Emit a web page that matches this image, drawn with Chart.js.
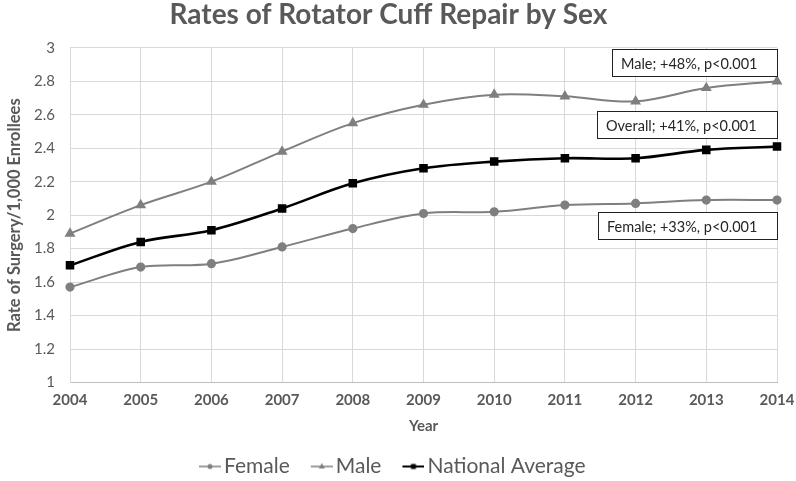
<!DOCTYPE html>
<html>
<head>
<meta charset="utf-8">
<script src="https://cdn.jsdelivr.net/npm/chart.js@4.4.0/dist/chart.umd.min.js"></script>
<style>
  body { margin: 0; background: #fff; }
  canvas { display: block; }
</style>
</head>
<body>
<canvas id="rcChart" width="796" height="481"></canvas>
<script>
//data
var years = ["2004", "2005", "2006", "2007", "2008", "2009", "2010", "2011", "2012", "2013", "2014"];
var female = [1.57, 1.69, 1.71, 1.81, 1.92, 2.01, 2.02, 2.06, 2.07, 2.09, 2.09];
var male = [1.89, 2.06, 2.20, 2.38, 2.55, 2.66, 2.72, 2.71, 2.68, 2.76, 2.80];
var national = [1.70, 1.84, 1.91, 2.04, 2.19, 2.28, 2.32, 2.34, 2.34, 2.39, 2.41];
var yTicks = [1, 1.2, 1.4, 1.6, 1.8, 2, 2.2, 2.4, 2.6, 2.8, 3];

//text boxes on the right, anchored at the last year
var noteTexts = ["Male; +48%, p<0.001", "Overall; +41%, p<0.001", "Female; +33%, p<0.001"];
var noteLevels = [2.912, 2.539, 1.938];

var FONT = "Lato, 'Open Sans', sans-serif";
var GRAY = "#7f7f7f";
var TEXT = "#595959";

//legend symbol: a short line with a marker, drawn on the right part of a
//wider transparent canvas so the gaps around it look like the original
function legendIcon(color, style, lw) {
    var c = document.createElement("canvas");
    c.width = 37; c.height = 10;
    var g = c.getContext("2d");
    g.strokeStyle = color;
    g.fillStyle = color;
    g.lineWidth = lw;
    g.beginPath();
    g.moveTo(15, 5); g.lineTo(37, 5);
    g.stroke();
    g.beginPath();
    if (style === "circle") {
        g.arc(26, 5, 2.5, 0, Math.PI * 2);
    } else if (style === "triangle") {
        g.moveTo(26, 1.5); g.lineTo(29, 7); g.lineTo(23, 7); g.closePath();
    } else {
        g.rect(23.5, 2.5, 5, 5);
    }
    g.fill();
    return c;
}

var notesPlugin = {
    id: "notes",
    afterDatasetsDraw: function (chart) {
        var ctx = chart.ctx;
        var xs = chart.scales.x, ys = chart.scales.y;
        var right = Math.round(xs.getPixelForValue(years.length - 1));
        ctx.save();
        ctx.font = "14.5px " + FONT;
        ctx.textBaseline = "middle";
        noteTexts.forEach(function (t, i) {
            var w = Math.round(ctx.measureText(t).width + 29);
            var h = 27;
            var cy = Math.round(ys.getPixelForValue(noteLevels[i]));
            var x0 = right - w;
            var y0 = cy - Math.round(h / 2);
            ctx.fillStyle = "#fff";
            ctx.fillRect(x0, y0, w, h);
            ctx.strokeStyle = "#222";
            ctx.lineWidth = 1;
            ctx.strokeRect(x0 + 0.5, y0 + 0.5, w, h);
            ctx.fillStyle = "#262626";
            ctx.fillText(t, x0 + 9, cy + 1);
        });
        ctx.restore();
    }
};

var chartData = {
    labels: years,
    datasets: [
        {
            label: "Female",
            data: female,
            borderColor: GRAY,
            backgroundColor: GRAY,
            borderWidth: 2,
            pointStyle: "circle",
            pointRadius: 3.6,
            legendIcon: legendIcon(GRAY, "circle", 1.5)
        },
        {
            label: "Male",
            data: male,
            borderColor: GRAY,
            backgroundColor: GRAY,
            borderWidth: 2,
            pointStyle: "triangle",
            pointRadius: 4.3,
            legendIcon: legendIcon(GRAY, "triangle", 1.5)
        },
        {
            label: "National Average",
            data: national,
            borderColor: "#000",
            backgroundColor: "#000",
            borderWidth: 2.6,
            pointStyle: "rect",
            pointRadius: 4.2,
            legendIcon: legendIcon("#000", "rect", 2)
        }
    ]
};

var config = {
    responsive: false,
    animation: false,
    layout: { padding: { top: 0, right: 19, bottom: -6, left: 0 } },
    elements: { line: { tension: 0.35 } },
    plugins: {
        title: {
            display: true,
            text: "Rates of Rotator Cuff Repair by Sex",
            color: TEXT,
            font: { family: FONT, size: 28, weight: "bold", lineHeight: 1.1 },
            padding: { top: 0, bottom: 17 }
        },
        legend: {
            position: "bottom",
            labels: {
                usePointStyle: true,
                pointStyleWidth: 22,
                color: TEXT,
                font: { family: FONT, size: 21 },
                padding: 13.5,
                generateLabels: function (chart) {
                    return chart.data.datasets.map(function (ds, i) {
                        return {
                            text: ds.label,
                            pointStyle: ds.legendIcon,
                            fontColor: TEXT,
                            lineWidth: 0,
                            datasetIndex: i
                        };
                    });
                }
            }
        },
        tooltip: { enabled: false }
    },
    scales: {
        x: {
            afterFit: function (axis) {
                axis.height = 60;
                axis.paddingLeft = 0;
                axis.paddingRight = 0;
            },
            grid: { color: "#d9d9d9", drawTicks: false },
            border: { color: "#bfbfbf" },
            ticks: { color: TEXT, padding: 9, maxRotation: 0, font: { family: FONT, size: 15, weight: "bold" } },
            title: {
                display: true, text: "Year", color: TEXT,
                font: { family: FONT, size: 15, weight: "bold" }, padding: { top: 8, bottom: 7 }
            }
        },
        y: {
            min: 1,
            max: 3,
            afterBuildTicks: function (axis) {
                axis.ticks = yTicks.map(function (v) { return { value: v }; });
            },
            afterFit: function (axis) {
                axis.width = 70;
                axis.paddingTop = 0;
                axis.paddingBottom = 0;
            },
            grid: { color: "#d9d9d9", drawTicks: false },
            border: { color: "#d9d9d9" },
            ticks: {
                color: TEXT, padding: 15, font: { family: FONT, size: 15 },
                callback: function (v) { return String(Math.round(v * 10) / 10); }
            },
            title: {
                display: true, text: "Rate of Surgery/1,000 Enrollees", color: TEXT,
                font: { family: FONT, size: 16.5, weight: "bold" }, padding: { top: 5, bottom: 0 }
            }
        }
    }
};

var ctx = document.getElementById("rcChart");
var rcChart = new Chart(ctx, {
    type: "line",
    data: chartData,
    options: config,
    plugins: [notesPlugin]
});
</script>
</body>
</html>
